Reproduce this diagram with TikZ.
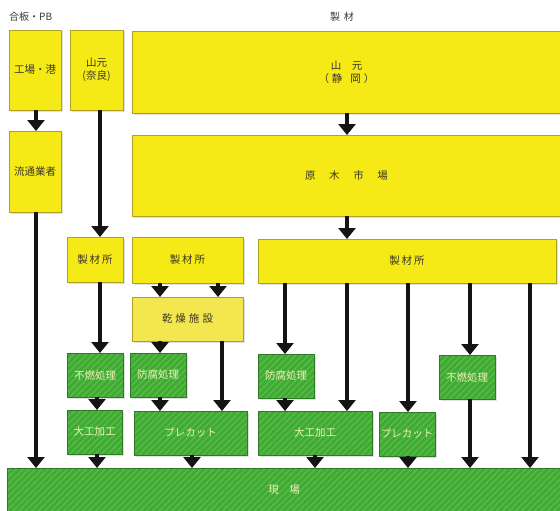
\documentclass[tikz,border=0pt]{standalone}
\usepackage{fontspec}
\setmainfont{Noto Sans CJK JP}
\usetikzlibrary{arrows.meta,patterns.meta,shadows}
\definecolor{ylw}{HTML}{F6EA16}
\definecolor{ylwl}{HTML}{F4E64E}
\definecolor{ylwb}{HTML}{B0A024}
\definecolor{grn}{HTML}{3FAA34}
\definecolor{grns}{HTML}{5CBC4A}
\definecolor{grnb}{HTML}{2F7A27}
\definecolor{ytxt}{HTML}{3A3628}
\definecolor{gtxt}{HTML}{EEF3B5}
\definecolor{ltxt}{HTML}{3A3A3A}
\tikzset{
  base/.style={rectangle, inner sep=0pt, outer sep=0pt, anchor=north west, align=center,
    font=\fontsize{10.5}{13}\selectfont,
    drop shadow={opacity=0.25, shadow xshift=1.5pt, shadow yshift=-1.5pt}},
  ybox/.style={base, fill=ylw, draw=ylwb, line width=0.6pt, text=ytxt},
  lbox/.style={base, fill=ylwl, draw=ylwb, line width=0.6pt, text=ytxt},
  gbox/.style={base, preaction={fill=grn}, pattern={Lines[angle=45,distance=4.5pt,line width=1.2pt]},
    pattern color=grns, draw=grnb, line width=0.6pt, text=gtxt},
  lab/.style={inner sep=0pt, font=\fontsize{10}{12}\selectfont, text=ltxt},
  arr/.style={line width=4.5pt, draw=black!92, -{Triangle[width=17pt,length=11pt]}}
}
\newcommand\bx[7]{\node[#1, minimum width={#5-#3}, minimum height={#6-#4}] (#2) at (#3,#4) {#7};}
\begin{document}
\begin{tikzpicture}[x=1pt,y=-1pt]
\fill[white] (0,0) rectangle (560,511);
\useasboundingbox (0,0) rectangle (560,511);
\foreach \x in {36,97,100,160,192,218,222,285,315,347,408,470,530} \coordinate (x\x) at (\x,0);

\node[lab, anchor=west] (lgohan) at (9,17) {合板・PB};
\node[lab] (lseizai) at (342,17) {製\hspace{0.4em}材};

\bx{ybox}{kojo}{9}{30}{61}{110}{工場・港}
\bx{ybox}{yamaN}{70}{30}{123}{110}{山元\\(奈良)}
\bx{ybox}{yamaS}{132}{31}{561}{113}{山\hspace{1em}元\\（\hspace{3pt}静\hspace{8pt}岡\hspace{3pt}）}
\bx{ybox}{ryutsu}{9}{131}{61}{212}{流通業者}
\bx{ybox}{genboku}{132}{135}{561}{216}{原\hspace{1.3em}木\hspace{1.3em}市\hspace{1.3em}場}
\bx{ybox}{seiA}{67}{237}{123}{282}{製\hspace{2pt}材\hspace{2pt}所}
\bx{ybox}{seiB}{132}{237}{243}{283}{製\hspace{2pt}材\hspace{2pt}所}
\bx{ybox}{seiC}{258}{239}{556}{283}{製\hspace{2pt}材\hspace{2pt}所}
\bx{lbox}{kanso}{132}{297}{243}{341}{乾\hspace{3pt}燥\hspace{3pt}施\hspace{3pt}設}
\bx{gbox}{funenA}{67}{353}{123}{397}{不燃処理}
\bx{gbox}{bofuA}{130}{353}{186}{397}{防腐処理}
\bx{gbox}{daikuA}{67}{410}{122}{454}{大工加工}
\bx{gbox}{preA}{134}{411}{247}{455}{プレカット}
\bx{gbox}{bofuC}{258}{354}{314}{398}{防腐処理}
\bx{gbox}{daikuC}{258}{411}{372}{455}{大工加工}
\bx{gbox}{preC}{379}{412}{435}{456}{プレカット}
\bx{gbox}{funenC}{439}{355}{495}{399}{不燃処理}
\bx{gbox}{genba}{7}{468}{561}{512}{現\hspace{1em}場}

\draw[arr] (kojo.south -| x36) -- (ryutsu.north -| x36);
\draw[arr] (yamaN.south -| x100) -- (seiA.north -| x100);
\draw[arr] (yamaS.south -| x347) -- (genboku.north -| x347);
\draw[arr] (genboku.south -| x347) -- (seiC.north -| x347);
\draw[arr] (ryutsu.south -| x36) -- (genba.north -| x36);
\draw[arr] (seiA.south -| x100) -- (funenA.north -| x100);
\draw[arr] (funenA.south -| x97) -- (daikuA.north -| x97);
\draw[arr] (daikuA.south -| x97) -- (genba.north -| x97);
\draw[arr] (seiB.south -| x160) -- (kanso.north -| x160);
\draw[arr] (seiB.south -| x218) -- (kanso.north -| x218);
\draw[arr] (kanso.south -| x160) -- (bofuA.north -| x160);
\draw[arr] (kanso.south -| x222) -- (preA.north -| x222);
\draw[arr] (bofuA.south -| x160) -- (preA.north -| x160);
\draw[arr] (preA.south -| x192) -- (genba.north -| x192);
\draw[arr] (seiC.south -| x285) -- (bofuC.north -| x285);
\draw[arr] (bofuC.south -| x285) -- (daikuC.north -| x285);
\draw[arr] (seiC.south -| x347) -- (daikuC.north -| x347);
\draw[arr] (daikuC.south -| x315) -- (genba.north -| x315);
\draw[arr] (seiC.south -| x408) -- (preC.north -| x408);
\draw[arr] (preC.south -| x408) -- (genba.north -| x408);
\draw[arr] (seiC.south -| x470) -- (funenC.north -| x470);
\draw[arr] (funenC.south -| x470) -- (genba.north -| x470);
\draw[arr] (seiC.south -| x530) -- (genba.north -| x530);
\end{tikzpicture}
\end{document}
